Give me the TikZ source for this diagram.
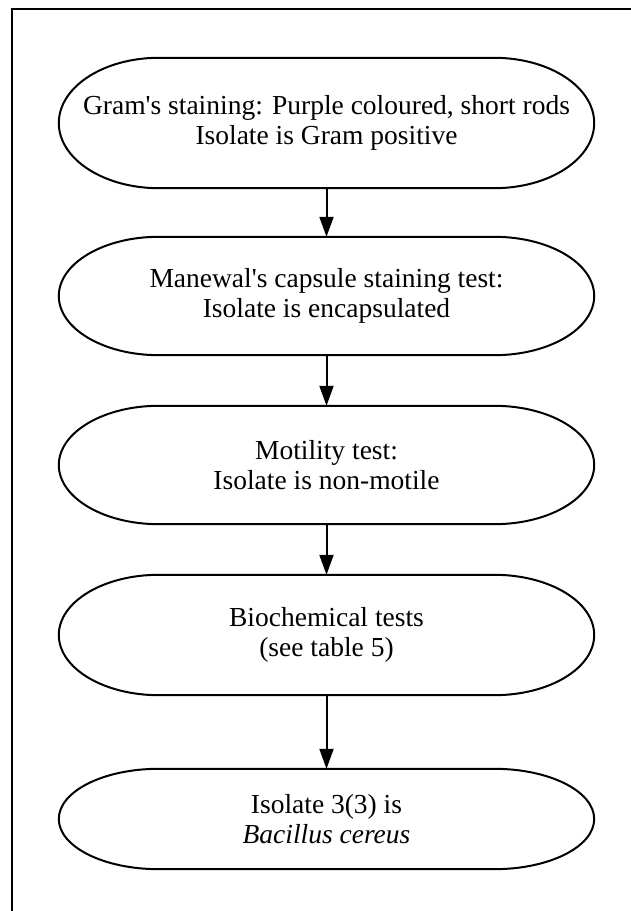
\documentclass[tikz,border=0pt]{standalone}
\usepackage{fontspec}
\newfontfamily\lib{Liberation Serif}
\usetikzlibrary{arrows.meta,calc}
\tikzset{
  stepbox/.style={draw=none, minimum width=535pt, inner sep=0pt, align=center,
    font=\lib\fontsize{27.5}{30}\selectfont},
  outline/.style={line width=2pt, black},
  arr/.style={line width=2pt, -{Triangle[length=20pt,width=14pt]}},
  frame/.style={line width=1.5pt}
}
\newcommand\stadium[1]{%
  \draw[outline] let \p1=(#1.north), \p2=(#1.south), \n1={(\y1-\y2)/2} in
    ($(#1.north west)+(100,0)$) -- ($(#1.north east)+(-100,0)$)
    arc[start angle=90,end angle=-90,x radius=100pt,y radius=\n1]
    -- ($(#1.south west)+(100,0)$)
    arc[start angle=270,end angle=90,x radius=100pt,y radius=\n1] -- cycle;}
\begin{document}
\begin{tikzpicture}[x=1pt,y=1pt]
\useasboundingbox (0,0) rectangle (630,911);
\draw[frame] (631,902) -- (12,902) -- (12,-1);
\node[stepbox, minimum height=130pt] (n1) at (326.5,788) {Gram's staining: Purple coloured, short rods\\Isolate is Gram positive};
\node[stepbox, minimum height=118pt] (n2) at (326.5,615) {Manewal's capsule staining test:\\Isolate is encapsulated};
\node[stepbox, minimum height=118pt] (n3) at (326.5,446) {Motility test:\\Isolate is non-motile};
\node[stepbox, minimum height=120pt] (n4) at (326.5,276) {Biochemical tests\\(see table 5)};
\node[stepbox, minimum height=100pt] (n5) at (326.5,92) {Isolate 3(3) is\\\textit{Bacillus cereus}};
\stadium{n1}
\stadium{n2}
\stadium{n3}
\stadium{n4}
\stadium{n5}
\draw[arr] (n1.south) -- (n2.north);
\draw[arr] (n2.south) -- (n3.north);
\draw[arr] (n3.south) -- (n4.north);
\draw[arr] (n4.south) -- (n5.north);
\end{tikzpicture}
\end{document}
